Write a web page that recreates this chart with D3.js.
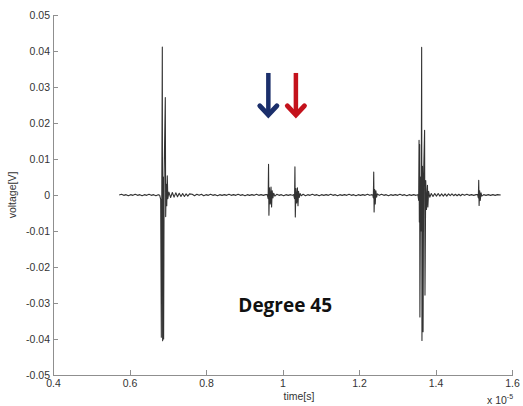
<!DOCTYPE html>
<html>
<head>
<meta charset="utf-8">
<script src="https://cdn.jsdelivr.net/npm/d3@7"></script>
<style>
  html, body { margin: 0; padding: 0; background: #fff; }
  svg { display: block; }
  .axis text { font-family: "Liberation Sans", Arial, sans-serif; font-size: 10.5px; fill: #333; }
  .axis path, .axis line { stroke: #8f8f8f; stroke-width: 1; shape-rendering: crispEdges; }
</style>
</head>
<body>
<svg id="chart" width="523" height="406"></svg>
<script>
// Time axis in units of 1e-5 s, voltage in V
const xTicks = [0.4, 0.6, 0.8, 1.0, 1.2, 1.4, 1.6];
const xTickLabels = ["0.4", "0.6", "0.8", "1", "1.2", "1.4", "1.6"];
const yTicks = [0.05, 0.04, 0.03, 0.02, 0.01, 0, -0.01, -0.02, -0.03, -0.04, -0.05];
const yTickLabels = ["0.05", "0.04", "0.03", "0.02", "0.01", "0", "-0.01", "-0.02", "-0.03", "-0.04", "-0.05"];

// Recorded trace: [time, voltage]
const trace = [
  // quiet lead-in
  [0.573, 0.0000], [0.579, 0.0002], [0.585, -0.0001], [0.591, 0.0001], [0.597, -0.0002],
  [0.603, 0.0001], [0.609, -0.0001], [0.615, 0.0002], [0.621, -0.0001], [0.627, 0.0001],
  [0.633, -0.0002], [0.639, 0.0001], [0.645, -0.0001], [0.651, 0.0002], [0.657, -0.0001],
  [0.663, 0.0001], [0.669, -0.0002], [0.675, 0.0001], [0.679, -0.0001],
  // transmitted burst
  [0.6815, -0.0012], [0.6832, -0.0395], [0.6845, 0.0030], [0.6858, 0.0411], [0.6866, -0.0405],
  [0.6878, 0.0050], [0.6892, -0.0400], [0.6906, 0.0060], [0.6936, 0.0271], [0.6946, -0.0060],
  [0.6960, 0.0030], [0.6974, -0.0030], [0.6988, 0.0053], [0.7002, -0.0010],
  // ringing
  [0.7030, 0.0008], [0.7075, -0.0007], [0.7120, 0.0007], [0.7165, -0.0006], [0.7210, 0.0006],
  [0.7255, -0.0005], [0.7300, 0.0005], [0.7345, -0.0004], [0.7390, 0.0004], [0.7435, -0.0004],
  [0.7480, 0.0003], [0.7525, -0.0003], [0.7570, 0.0003],
  // baseline
  [0.764, 0.0002], [0.770, -0.0002], [0.776, 0.0002], [0.782, -0.0001], [0.788, 0.0002],
  [0.794, -0.0002], [0.800, 0.0001], [0.806, -0.0001], [0.812, 0.0002], [0.818, -0.0001],
  [0.824, 0.0001], [0.830, -0.0002], [0.836, 0.0001], [0.842, -0.0001], [0.848, 0.0001],
  [0.854, -0.0001], [0.860, 0.0002], [0.866, -0.0001], [0.872, 0.0001], [0.878, -0.0001],
  [0.884, 0.0002], [0.890, -0.0001], [0.896, 0.0001], [0.902, -0.0002], [0.908, 0.0001],
  [0.914, -0.0001], [0.920, 0.0001], [0.926, -0.0001], [0.932, 0.0002], [0.938, -0.0001],
  [0.944, 0.0001], [0.950, -0.0001], [0.956, 0.0001],
  // first echo
  [0.9600, 0.0001], [0.9625, -0.0010], [0.9635, 0.0085], [0.9645, -0.0056], [0.9660, 0.0020],
  [0.9680, -0.0025], [0.9700, 0.0022], [0.9715, -0.0033], [0.9730, 0.0012], [0.9750, -0.0008],
  [0.9770, 0.0005], [0.9800, -0.0003],
  [0.985, 0.0002], [0.991, -0.0001], [0.997, 0.0001], [1.003, -0.0002], [1.009, 0.0001],
  [1.015, -0.0001], [1.021, 0.0001], [1.026, -0.0001],
  // second echo
  [1.0290, 0.0001], [1.0315, -0.0010], [1.0325, 0.0078], [1.0335, -0.0061], [1.0350, 0.0018],
  [1.0370, -0.0022], [1.0390, 0.0020], [1.0405, -0.0030], [1.0420, 0.0010], [1.0440, -0.0007],
  [1.0460, 0.0004], [1.0490, -0.0002],
  [1.054, 0.0002], [1.060, -0.0002], [1.066, 0.0001], [1.072, -0.0001], [1.078, 0.0002],
  [1.084, -0.0001], [1.090, 0.0001], [1.096, -0.0002], [1.102, 0.0001], [1.108, -0.0001],
  [1.114, 0.0001], [1.120, -0.0001], [1.126, 0.0002], [1.132, -0.0001], [1.138, 0.0001],
  [1.144, -0.0002], [1.150, 0.0001], [1.156, -0.0001], [1.162, 0.0001], [1.168, -0.0001],
  [1.174, 0.0002], [1.180, -0.0001], [1.186, 0.0001], [1.192, -0.0002], [1.198, 0.0001],
  [1.204, -0.0001], [1.210, 0.0001], [1.216, -0.0001], [1.222, 0.0002], [1.228, -0.0001],
  [1.233, 0.0001],
  // third echo
  [1.2360, 0.0000], [1.2375, -0.0008], [1.2385, 0.0064], [1.2395, -0.0047], [1.2410, 0.0015],
  [1.2425, -0.0025], [1.2440, 0.0012], [1.2460, -0.0006], [1.2480, 0.0003],
  [1.253, -0.0001], [1.259, 0.0002], [1.265, -0.0001], [1.271, 0.0001], [1.277, -0.0002],
  [1.283, 0.0001], [1.289, -0.0001], [1.295, 0.0001], [1.301, -0.0001], [1.307, 0.0002],
  [1.313, -0.0001], [1.319, 0.0001], [1.325, -0.0002], [1.331, 0.0001], [1.337, -0.0001],
  [1.343, 0.0001], [1.349, -0.0001],
  // received burst
  [1.3540, 0.0001], [1.3560, -0.0015], [1.3570, 0.0152], [1.3578, -0.0075], [1.3585, 0.0140],
  [1.3592, -0.0339], [1.3610, 0.0050], [1.3625, -0.0100], [1.3638, 0.0410], [1.3646, -0.0404],
  [1.3660, 0.0080], [1.3675, -0.0380], [1.3690, 0.0060], [1.3715, 0.0180], [1.3725, -0.0278],
  [1.3745, 0.0040], [1.3765, -0.0040], [1.3790, 0.0027], [1.3800, -0.0033], [1.3820, 0.0010],
  [1.3850, -0.0006],
  [1.3890, 0.0004], [1.3935, -0.0004], [1.3980, 0.0004], [1.4025, -0.0003], [1.4070, 0.0004],
  [1.4115, -0.0003], [1.4160, 0.0003], [1.4205, -0.0003], [1.4250, 0.0003], [1.4295, -0.0003],
  [1.4340, 0.0003], [1.4385, -0.0002], [1.4430, 0.0003], [1.4475, -0.0002], [1.4520, 0.0002],
  [1.4565, -0.0002], [1.4610, 0.0002], [1.4655, -0.0002], [1.4700, 0.0002], [1.4760, -0.0001],
  [1.4820, 0.0002], [1.4880, -0.0001], [1.4940, 0.0001], [1.5000, -0.0001], [1.5060, 0.0001],
  // late echo
  [1.5100, 0.0001], [1.5120, -0.0008], [1.5130, 0.0041], [1.5140, -0.0029], [1.5155, 0.0012],
  [1.5170, -0.0015], [1.5190, 0.0006], [1.5210, -0.0003],
  [1.5260, 0.0001], [1.5320, -0.0001], [1.5380, 0.0001], [1.5440, -0.0001], [1.5500, 0.0001],
  [1.5560, -0.0001], [1.5620, 0.0001], [1.5705, 0.0000]
];

// Marker arrows over the two echoes
const arrowTimes = [0.963, 1.035];
const arrowTop = 0.0339;
const arrowTip = 0.0217;
const arrowColors = ["#1b2f6b", "#c4121c"];

const annotationText = "Degree 45";
const annotationPos = [0.8845, -0.0325];

const margin = { top: 15, right: 11, bottom: 31, left: 53 };
const width = 523, height = 406;

const svg = d3.select("#chart");

const x = d3.scaleLinear().domain([0.4, 1.6]).range([margin.left, width - margin.right]);
const y = d3.scaleLinear().domain([-0.05, 0.05]).range([height - margin.bottom, margin.top]);

// Axes (left and bottom only, ticks pointing inward)
const xAxis = d3.axisBottom(x)
  .tickValues(xTicks)
  .tickFormat((d, i) => xTickLabels[i])
  .tickSizeInner(-5).tickSizeOuter(0).tickPadding(5);
const yAxis = d3.axisLeft(y)
  .tickValues(yTicks)
  .tickFormat((d, i) => yTickLabels[i])
  .tickSizeInner(-5).tickSizeOuter(0).tickPadding(3);

svg.append("g").attr("class", "axis")
  .attr("transform", `translate(0,${height - margin.bottom})`)
  .call(xAxis);
svg.append("g").attr("class", "axis")
  .attr("transform", `translate(${margin.left},0)`)
  .call(yAxis);

// Axis titles
svg.append("text")
  .attr("x", 299).attr("y", 400)
  .attr("text-anchor", "middle")
  .style("font-family", "'Liberation Sans', Arial, sans-serif")
  .style("font-size", "10.5px").style("fill", "#333")
  .text("time[s]");

svg.append("text")
  .attr("transform", `translate(16,${(margin.top + height - margin.bottom) / 2}) rotate(-90)`)
  .attr("text-anchor", "middle")
  .style("font-family", "'Liberation Sans', Arial, sans-serif")
  .style("font-size", "10.5px").style("fill", "#333")
  .text("voltage[V]");

const expo = svg.append("text")
  .attr("x", 487).attr("y", 404)
  .style("font-family", "'Liberation Sans', Arial, sans-serif")
  .style("font-size", "10.5px").style("fill", "#333");
expo.append("tspan").text("x 10");
expo.append("tspan").attr("dy", -5).style("font-size", "7px").text("-5");

// Trace
const line = d3.line().x(d => x(d[0])).y(d => y(d[1]));
svg.append("path")
  .datum(trace)
  .attr("d", line)
  .attr("fill", "none")
  .attr("stroke", "#333")
  .attr("stroke-width", 1.1)
  .attr("stroke-linejoin", "round");

// Arrows
arrowTimes.forEach((t, i) => {
  const ax = x(t), y0 = y(arrowTop), y1 = y(arrowTip);
  const g = svg.append("g").attr("stroke", arrowColors[i]).attr("fill", "none");
  g.append("line")
    .attr("x1", ax).attr("x2", ax).attr("y1", y0).attr("y2", y1 - 3)
    .attr("stroke-width", 4.5);
  g.append("path")
    .attr("d", `M${ax - 8.5},${y1 - 11} L${ax},${y1 - 2} L${ax + 8.5},${y1 - 11}`)
    .attr("stroke-width", 5)
    .attr("stroke-linejoin", "miter")
    .attr("stroke-linecap", "round");
});

// Annotation
svg.append("text")
  .attr("x", x(annotationPos[0])).attr("y", y(annotationPos[1]))
  .style("font-family", "'Open Sans', 'Noto Sans', sans-serif")
  .style("font-weight", "bold")
  .style("font-size", "19px")
  .style("fill", "#111")
  .text(annotationText);
</script>
</body>
</html>
